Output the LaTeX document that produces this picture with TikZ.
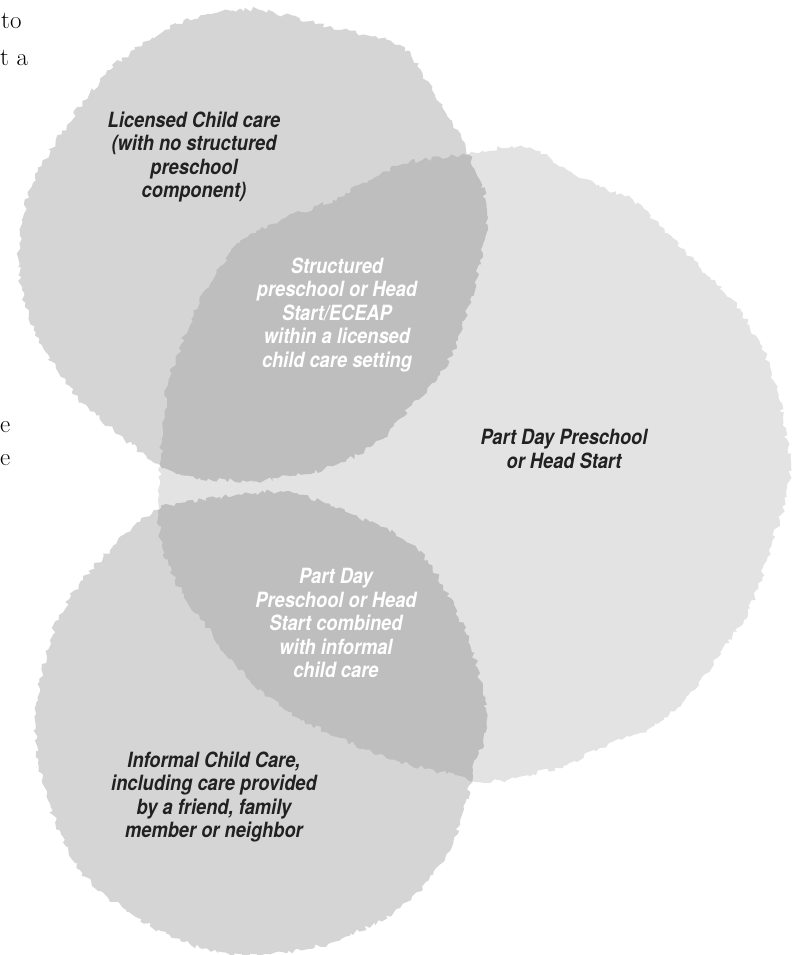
\documentclass[tikz,border=0pt]{standalone}
\usepackage{fontspec}
\newfontfamily\labelfont[FakeStretch=0.87]{TeX Gyre Heros}
\usetikzlibrary{decorations.pathmorphing}

\begin{document}
\begin{tikzpicture}[x=1pt,y=-1pt,
	rough/.style={decorate,decoration={random steps,segment length=3.5pt,amplitude=2.5pt}},
	blob/.style={rough,fill=black,fill opacity=0.165},
	wideblob/.style={rough,fill=black,fill opacity=0.11},
	dtext/.style={font=\labelfont\bfseries\itshape\fontsize{21}{23.5}\selectfont,align=center,text=black!87},
	wtext/.style={dtext,text=white},
	frag/.style={font=\fontsize{25}{28}\selectfont,inner sep=0pt}]
	\useasboundingbox (0,0) rectangle (799,955);

	% part day preschool
	\pgfmathsetseed{11}
	\path[wideblob] plot[smooth cycle,tension=0.55] coordinates {(523,147) (567,170) (600,187) (633,200) (667,233) (700,267) (733,300) (755,335) (770,367) (783,417) (790,475) (783,508) (767,558) (750,608) (717,658) (683,702) (650,728) (600,748) (567,765) (523,776) (480,782) (440,772) (400,762) (340,738) (285,710) (235,664) (200,618) (175,580) (162,545) (158,500) (162,440) (168,385) (185,335) (205,290) (240,243) (285,218) (333,200) (400,165) (455,156)};
	% licensed child care
	\pgfmathsetseed{23}
	\path[blob] plot[smooth cycle,tension=0.55] coordinates {(260,10) (333,28) (400,45) (432,90) (462,140) (480,180) (487,215) (480,260) (470,300) (458,340) (440,375) (412,405) (380,440) (333,466) (265,480) (200,478) (160,465) (120,435) (75,395) (42,345) (22,290) (20,235) (33,183) (67,125) (110,70) (165,30) (215,13)};
	% informal child care
	\pgfmathsetseed{37}
	\path[blob] plot[smooth cycle,tension=0.55] coordinates {(170,505) (233,496) (283,492) (333,506) (370,522) (413,545) (443,585) (467,635) (485,700) (483,742) (473,770) (460,825) (433,875) (400,908) (333,942) (262,955) (200,948) (133,915) (80,870) (48,800) (35,720) (50,640) (75,590) (110,550) (140,522)};

	\node[dtext] (licensed) at (194,157) {Licensed Child care\\(with no structured\\preschool\\component)};
	\node[wtext] (structured) at (337,315) {Structured\\preschool or Head\\Start/ECEAP\\within a licensed\\child care setting};
	\node[dtext] (partday) at (564,449) {Part Day Preschool\\or Head Start};
	\node[wtext] (combined) at (336,623) {Part Day\\Preschool or Head\\Start combined\\with informal\\child care};
	\node[dtext] (informal) at (214,797) {Informal Child Care,\\including care provided\\by a friend, family\\member or neighbor};

	% text at the left margin
	\node[frag,anchor=base west] (to) at (1,29) {to};
	\node[frag,anchor=base west] (ta) at (0,66) {t a};
	\node[frag,anchor=base west] (e1) at (0,432) {e};
	\node[frag,anchor=base west] (e2) at (0,465) {e};
\end{tikzpicture}
\end{document}
